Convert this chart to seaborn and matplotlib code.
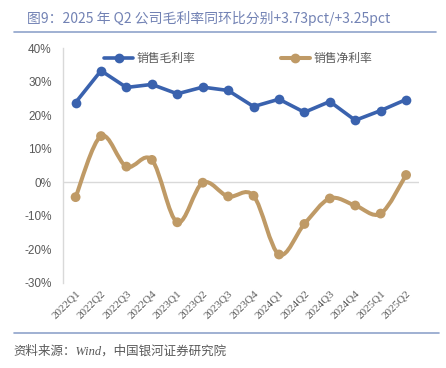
import numpy as np
import pandas as pd
import matplotlib
matplotlib.use("Agg")
import matplotlib.pyplot as plt
from matplotlib.path import Path
from matplotlib.patches import PathPatch
from matplotlib.lines import Line2D
from matplotlib.ticker import FuncFormatter
import seaborn as sns

# data
quarters = ["2022Q1", "2022Q2", "2022Q3", "2022Q4", "2023Q1", "2023Q2", "2023Q3",
            "2023Q4", "2024Q1", "2024Q2", "2024Q3", "2024Q4", "2025Q1", "2025Q2"]
gross_margin = [23.8, 33.3, 28.3, 29.2, 26.4, 28.4, 27.4,
                22.6, 24.8, 20.9, 24.1, 18.5, 21.4, 24.7]
net_margin = [-4.4, 13.8, 4.7, 6.7, -11.9, -0.1, -4.2,
              -4.0, -21.5, -12.4, -4.8, -6.9, -9.3, 2.2]
yticks = [-30, -20, -10, 0, 10, 20, 30, 40]

BLUE = "#3a62ae"
TAN = "#bf9a66"
GREY = "#595959"
TITLE_C = "#7282b4"
RULE_C = "#8fa3cb"

sns.set_style("white")
plt.rcParams["font.family"] = ["Liberation Serif", "Noto Sans CJK SC", "DejaVu Sans"]

df = pd.DataFrame({"pos": np.arange(len(quarters)), "quarter": quarters,
                   "gross": gross_margin, "net": net_margin})

fig = plt.figure(figsize=(4.46, 3.68), dpi=100)
ax = fig.add_axes([0.141, 0.231, 0.798, 0.638])

# gross margin: straight segments
sns.lineplot(data=df, x="pos", y="gross", ax=ax, color=BLUE, lw=2.6,
             marker="o", markersize=7, markeredgewidth=0, zorder=3)

# net margin: smoothed curve (Excel-style bezier) + markers
px = df["pos"].to_numpy(float)
py = df["net"].to_numpy(float)
verts = [(px[0], py[0])]
codes = [Path.MOVETO]
n = len(px)
for i in range(n - 1):
    p0 = np.array([px[max(i - 1, 0)], py[max(i - 1, 0)]])
    p1 = np.array([px[i], py[i]])
    p2 = np.array([px[i + 1], py[i + 1]])
    p3 = np.array([px[min(i + 2, n - 1)], py[min(i + 2, n - 1)]])
    c1 = p1 + (p2 - p0) / 6
    c2 = p2 - (p3 - p1) / 6
    verts += [tuple(c1), tuple(c2), tuple(p2)]
    codes += [Path.CURVE4] * 3
ax.add_patch(PathPatch(Path(verts, codes), fill=False, edgecolor=TAN, lw=2.9,
                       capstyle="round", zorder=3))
sns.scatterplot(data=df, x="pos", y="net", ax=ax, color=TAN, s=50,
                edgecolor="none", zorder=4)

ax.axhline(0, color="#d9d9d9", lw=1, zorder=1)

ax.set_xlim(-0.5, len(quarters) - 0.5)
ax.set_ylim(-30, 40)
ax.set_yticks(yticks)
ax.yaxis.set_major_formatter(FuncFormatter(lambda v, p: f"{v:.0f}%"))
ax.set_xticks(df["pos"])
ax.set_xticklabels(quarters, rotation=45, ha="right", rotation_mode="anchor")
ax.tick_params(axis="y", labelsize=8.5, colors=GREY, length=0, pad=8)
ax.tick_params(axis="x", labelsize=8, colors=GREY, length=0, pad=4)
for lab in ax.get_yticklabels():
    lab.set_fontfamily(["Liberation Sans", "DejaVu Sans"])
ax.set_xlabel("")
ax.set_ylabel("")
for s in ["top", "right", "bottom"]:
    ax.spines[s].set_visible(False)
ax.spines["left"].set_color("#d9d9d9")
ax.spines["left"].set_linewidth(1)

handles = [Line2D([], [], color=BLUE, lw=2.6, marker="o", markersize=6),
           Line2D([], [], color=TAN, lw=2.9, marker="o", markersize=6)]
leg = ax.legend(handles, ["销售毛利率", "销售净利率"], loc="upper left",
                bbox_to_anchor=(0.085, 1.03), ncol=2, frameon=False,
                columnspacing=7.2, handlelength=2.5, handletextpad=0.3,
                labelcolor=GREY, prop={"family": ["Noto Sans CJK SC"], "size": 8.5})

fig.text(0.06, 0.951, "图9：2025 年 Q2 公司毛利率同环比分别+3.73pct/+3.25pct",
         fontsize=10, color=TITLE_C, va="center", ha="left",
         family=["Noto Sans CJK SC", "DejaVu Sans"])
fig.add_artist(Line2D([0.031, 0.978], [0.913, 0.913], color=RULE_C, lw=1.2))
fig.add_artist(Line2D([0.031, 0.985], [0.095, 0.095], color=RULE_C, lw=1.2))
fig.text(0.031, 0.044, "资料来源：Wind，中国银河证券研究院", fontsize=9,
         color=GREY, style="italic", va="center", ha="left")

fig.savefig("out.png", dpi=100)
